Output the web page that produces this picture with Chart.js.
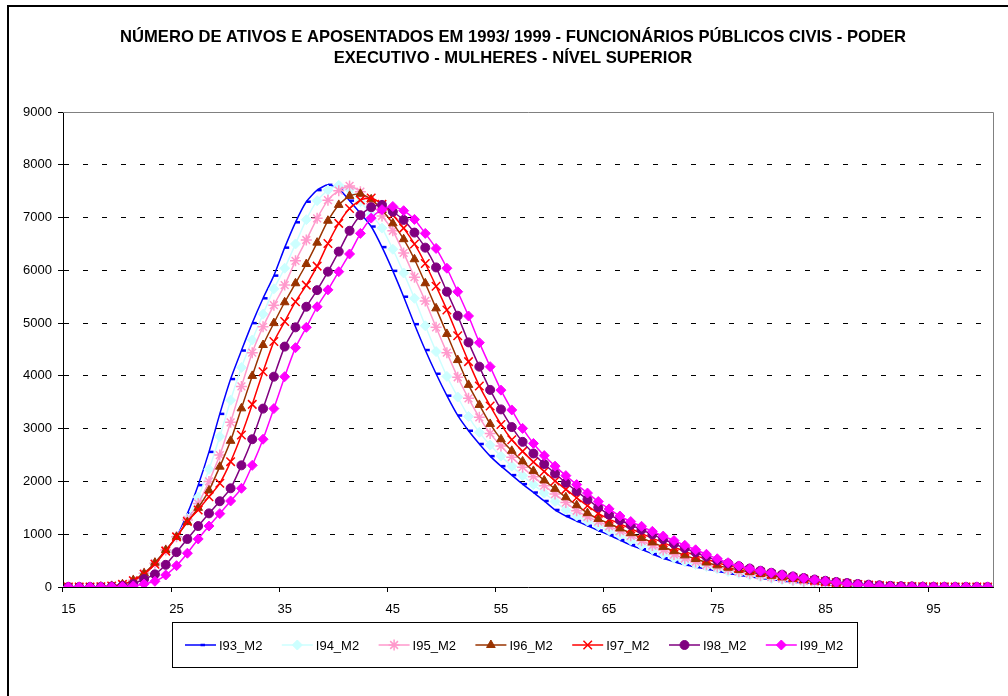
<!DOCTYPE html>
<html>
<head>
<meta charset="utf-8">
<script src="https://cdn.jsdelivr.net/npm/chart.js@4"></script>
<style>
  html, body { margin: 0; padding: 0; background: #fff; }
  #wrap { width: 1008px; height: 696px; }
</style>
</head>
<body>
<div id="wrap"><canvas id="chart" width="1008" height="696"></canvas></div>
<script>
const titleLines = [
  'NÚMERO DE ATIVOS E APOSENTADOS EM 1993/ 1999 - FUNCIONÁRIOS PÚBLICOS CIVIS - PODER',
  'EXECUTIVO - MULHERES - NÍVEL SUPERIOR'
];

const ages = [
  15, 16, 17, 18, 19, 20, 21, 22, 23, 24,
  25, 26, 27, 28, 29, 30, 31, 32, 33, 34,
  35, 36, 37, 38, 39, 40, 41, 42, 43, 44,
  45, 46, 47, 48, 49, 50, 51, 52, 53, 54,
  55, 56, 57, 58, 59, 60, 61, 62, 63, 64,
  65, 66, 67, 68, 69, 70, 71, 72, 73, 74,
  75, 76, 77, 78, 79, 80, 81, 82, 83, 84,
  85, 86, 87, 88, 89, 90, 91, 92, 93, 94,
  95, 96, 97, 98, 99, 100
];
// only every 10th age gets a label on the axis
const shownAges = [15, 25, 35, 45, 55, 65, 75, 85, 95];

const i93 = [
  0, 0, 0, 5, 15, 40, 110, 250, 450, 690,
  950, 1390, 1930, 2560, 3280, 3940, 4480, 5000, 5470, 5900,
  6430, 6910, 7300, 7520, 7620, 7550, 7320, 7080, 6830, 6440,
  5990, 5500, 4980, 4490, 4040, 3625, 3250, 2960, 2710, 2480,
  2290, 2120, 1950, 1790, 1630, 1460, 1345, 1250, 1160, 1070,
  985, 890, 795, 715, 625, 545, 480, 420, 380, 340,
  300, 260, 225, 195, 165, 140, 115, 95, 78, 62,
  48, 36, 26, 18, 12, 8, 5, 3, 2, 1,
  1, 0, 0, 0, 0, 0
];
const i94 = [
  0, 0, 0, 5, 15, 40, 110, 250, 450, 690,
  950, 1300, 1700, 2230, 2850, 3540, 4160, 4680, 5170, 5650,
  6040, 6500, 6960, 7320, 7520, 7610, 7530, 7300, 7060, 6800,
  6400, 5950, 5470, 4950, 4460, 3990, 3600, 3230, 2930, 2690,
  2480, 2290, 2110, 1940, 1780, 1620, 1460, 1345, 1250, 1160,
  1070, 980, 885, 790, 710, 620, 545, 480, 425, 385,
  340, 295, 258, 222, 190, 160, 135, 112, 92, 74,
  58, 45, 33, 24, 17, 11, 7, 4, 3, 2,
  1, 1, 0, 0, 0, 0
];
const i95 = [
  0, 0, 0, 5, 15, 45, 130, 260, 450, 700,
  950, 1270, 1580, 2000, 2500, 3120, 3800, 4440, 4930, 5340,
  5720, 6180, 6575, 6985, 7330, 7510, 7600, 7490, 7260, 7030,
  6750, 6330, 5870, 5420, 4920, 4440, 3975, 3575, 3215, 2910,
  2670, 2460, 2270, 2090, 1920, 1760, 1600, 1445, 1330, 1240,
  1150, 1060, 970, 875, 785, 700, 615, 540, 475, 420,
  380, 335, 292, 255, 220, 188, 160, 134, 111, 90,
  72, 56, 42, 31, 22, 15, 10, 6, 4, 2,
  1, 1, 0, 0, 0, 0
];
const i96 = [
  0, 0, 0, 5, 20, 50, 130, 260, 460, 700,
  950, 1230, 1500, 1830, 2280, 2770, 3385, 4000, 4585, 5000,
  5395, 5755, 6120, 6525, 6940, 7240, 7410, 7450, 7345, 7145,
  6890, 6590, 6210, 5755, 5280, 4795, 4300, 3830, 3450, 3090,
  2800, 2580, 2380, 2200, 2020, 1860, 1700, 1550, 1400, 1290,
  1200, 1110, 1020, 930, 845, 760, 680, 600, 530, 465,
  410, 365, 322, 282, 245, 212, 182, 154, 129, 106,
  86, 68, 52, 39, 28, 20, 13, 8, 5, 3,
  2, 1, 1, 0, 0, 0
];
const i97 = [
  0, 0, 0, 5, 20, 50, 120, 240, 430, 680,
  950, 1240, 1460, 1710, 1965, 2375, 2880, 3460, 4080, 4650,
  5030, 5405, 5720, 6080, 6510, 6890, 7170, 7330, 7370, 7250,
  7050, 6800, 6500, 6130, 5700, 5250, 4760, 4270, 3810, 3430,
  3080, 2790, 2570, 2370, 2190, 2010, 1850, 1690, 1540, 1395,
  1285, 1195, 1105, 1015, 925, 840, 755, 675, 595, 525,
  460, 405, 360, 318, 278, 242, 208, 178, 150, 125,
  102, 82, 64, 49, 36, 26, 18, 11, 7, 4,
  3, 2, 1, 0, 0, 0
];
const i98 = [
  0, 0, 0, 2, 8, 20, 55, 150, 240, 420,
  660, 910, 1155, 1395, 1625, 1870, 2305, 2800, 3380, 3985,
  4555, 4920, 5310, 5625, 5975, 6355, 6750, 7045, 7195, 7240,
  7110, 6955, 6715, 6430, 6055, 5595, 5140, 4635, 4175, 3735,
  3365, 3030, 2750, 2530, 2330, 2150, 1975, 1815, 1660, 1510,
  1370, 1265, 1175, 1085, 995, 905, 820, 735, 655, 575,
  505, 445, 395, 350, 308, 270, 234, 200, 170, 142,
  118, 96, 76, 58, 44, 32, 22, 14, 9, 5,
  3, 2, 1, 1, 0, 0
];
const i99 = [
  0, 0, 0, 0, 3, 8, 20, 57, 108, 227,
  404, 640, 910, 1155, 1390, 1630, 1870, 2305, 2800, 3380,
  3985, 4535, 4920, 5310, 5630, 5975, 6310, 6700, 6990, 7150,
  7210, 7130, 6965, 6700, 6415, 6040, 5595, 5135, 4630, 4175,
  3730, 3355, 3005, 2720, 2490, 2290, 2110, 1940, 1780, 1620,
  1480, 1345, 1240, 1150, 1055, 965, 880, 790, 705, 620,
  535, 460, 400, 345, 303, 265, 227, 195, 164, 135,
  110, 85, 62, 46, 32, 20, 12, 6, 4, 2,
  1, 1, 0, 0, 0, 0
];

const FONT = 'Arial, "Liberation Sans", sans-serif';

function series(label, data, color, style, radius, order, bw) {
  return {
    label, data, order,
    borderColor: color,
    backgroundColor: color,
    borderWidth: 1.5,
    pointStyle: style,
    pointRadius: radius,
    pointBorderWidth: bw,
    pointBackgroundColor: color,
    pointBorderColor: color,
    tension: 0.2,
    fill: false,
  };
}

// chart frame: outer border, title, plot border, legend box
const decor = {
  id: 'decor',
  beforeDatasetsDraw(chart) {
    const { ctx, chartArea: a } = chart;
    ctx.save();
    ctx.strokeStyle = '#808080';
    ctx.lineWidth = 1;
    ctx.beginPath();
    ctx.moveTo(a.left, Math.round(a.top) + 0.5);
    ctx.lineTo(Math.round(a.right) + 0.5, Math.round(a.top) + 0.5);
    ctx.lineTo(Math.round(a.right) + 0.5, a.bottom);
    ctx.stroke();
    ctx.restore();
  },
  afterDraw(chart) {
    const ctx = chart.ctx;
    ctx.save();
    // outer chart border (right/bottom edges fall outside the picture)
    ctx.strokeStyle = '#000';
    ctx.lineWidth = 2;
    ctx.beginPath();
    ctx.moveTo(8, 696);
    ctx.lineTo(8, 6);
    ctx.lineTo(1008, 6);
    ctx.stroke();

    ctx.fillStyle = '#000';
    ctx.font = 'bold 16.6px ' + FONT;
    ctx.textAlign = 'center';
    ctx.textBaseline = 'middle';
    ctx.fillText(titleLines[0], 513, 37);
    ctx.fillText(titleLines[1], 513, 58);

    // legend
    ctx.lineWidth = 1;
    ctx.strokeStyle = '#000';
    ctx.strokeRect(172.5, 622.5, 685, 45);
    ctx.font = '13px ' + FONT;
    ctx.textAlign = 'left';
    const ly = 645;
    chart.data.datasets.forEach((ds, i) => {
      const x = 185 + i * 96.8;
      ctx.strokeStyle = ds.borderColor;
      ctx.lineWidth = ds.borderWidth;
      ctx.beginPath();
      ctx.moveTo(x, ly);
      ctx.lineTo(x + 31, ly);
      ctx.stroke();
      ctx.fillStyle = ds.pointBackgroundColor;
      ctx.strokeStyle = ds.pointBorderColor;
      ctx.lineWidth = ds.pointBorderWidth;
      Chart.helpers.drawPoint(ctx, {
        pointStyle: ds.pointStyle, radius: ds.pointRadius,
        borderWidth: ds.pointBorderWidth, rotation: 0
      }, x + 15.5, ly);
      ctx.fillStyle = '#000';
      ctx.fillText(ds.label, x + 34, ly + 1);
    });
    ctx.restore();
  }
};

new Chart(document.getElementById('chart'), {
  type: 'line',
  data: {
    labels: ages,
    datasets: [
      series('I93_M2', i93, '#0000FF', 'dash', 4.5, 6, 2.5),
      series('I94_M2', i94, '#CCFFFF', 'rectRot', 5, 5, 1),
      series('I95_M2', i95, '#FF99CC', 'star', 5.5, 4, 1.5),
      series('I96_M2', i96, '#993300', 'triangle', 5, 3, 1),
      series('I97_M2', i97, '#FF0000', 'crossRot', 6, 2, 1.5),
      series('I98_M2', i98, '#800080', 'circle', 4.5, 1, 1),
      series('I99_M2', i99, '#FF00FF', 'rectRot', 5, 0, 1),
    ]
  },
  options: {
    responsive: false,
    animation: false,
    layout: { padding: { top: 112, right: 15, bottom: 79, left: 0 } },
    plugins: {
      legend: { display: false },
      title: { display: false },
      tooltip: { enabled: false }
    },
    scales: {
      x: {
        type: 'category',
        offset: true,
        afterFit: (s) => { s.height = 30; },
        grid: {
          offset: true,
          drawOnChartArea: false,
          drawTicks: true,
          tickLength: 5,
          color: (c) => (c.index % 10 === 0 ? '#000' : 'rgba(0,0,0,0)'),
        },
        border: { display: true, color: '#000', width: 1 },
        ticks: {
          autoSkip: false,
          maxRotation: 0,
          padding: 10,
          color: '#000',
          font: { family: FONT, size: 13 },
          callback: (v, i) => (shownAges.includes(ages[i]) ? String(ages[i]) : ''),
        }
      },
      y: {
        min: 0,
        max: 9000,
        afterFit: (s) => { s.width = 63; },
        grid: {
          color: '#000',
          lineWidth: 1,
          tickLength: 5,
          tickBorderDash: [],
        },
        border: { display: true, color: '#000', width: 1, dash: [5, 14], dashOffset: 0 },
        ticks: {
          stepSize: 1000,
          padding: 6,
          color: '#000',
          font: { family: FONT, size: 13 },
          callback: (v) => String(v),
        }
      }
    }
  },
  plugins: [decor]
});
</script>
</body>
</html>
